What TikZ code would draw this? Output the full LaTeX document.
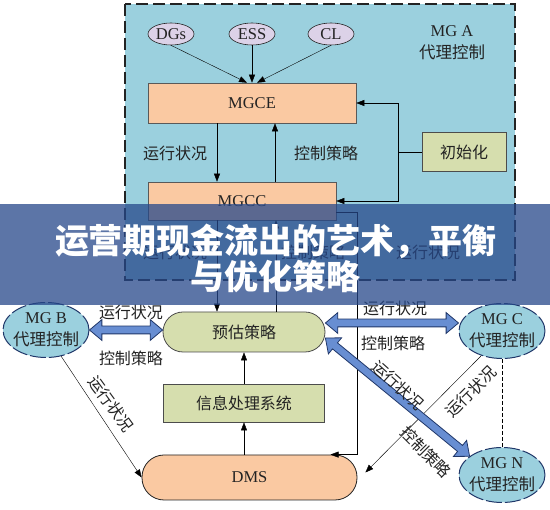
\documentclass[tikz,border=0pt]{standalone}
\usepackage{fontspec}
\setmainfont{Liberation Serif}
\newfontfamily\cjk{Noto Sans CJK SC}
\usetikzlibrary{
  arrows.meta,
  shapes.geometric,
  shapes.arrows,
  calc
}

\definecolor{mgblue}{RGB}{155,208,222}
\definecolor{peach}{RGB}{250,201,162}
\definecolor{olivebox}{RGB}{214,222,174}
\definecolor{lilac}{RGB}{220,210,232}
\definecolor{navy}{RGB}{32,55,105}
\definecolor{fatblue}{RGB}{104,142,210}
\definecolor{bannerblue}{RGB}{38,72,138}
\definecolor{ink}{RGB}{35,35,35}

\newcommand\fatarrow[2]{%
  \path let \p1=($(#2)-(#1)$), \n1={veclen(\x1,\y1)}, \n2={atan2(\y1,\x1)} in
    node[fat, minimum height=\n1, rotate=\n2] at ($(#1)!0.5!(#2)$) {};}

\begin{document}
\begin{tikzpicture}[x=1pt,y=-1pt,
  every node/.style={text=ink},
  latin/.style={font=\fontsize{16.5}{22}\selectfont},
  lbl/.style={font=\cjk\fontsize{16}{18}\selectfont},
  flow/.style={-{Triangle[length=8pt,width=6pt]}},
  src/.style={ellipse, draw=ink, fill=lilac, line width=0.6pt, minimum width=46pt, minimum height=22pt, inner sep=0pt, latin},
  peachbox/.style={rectangle, draw=black!65, fill=peach, line width=0.6pt, inner sep=0pt, latin},
  greenbox/.style={rectangle, draw=black!70, fill=olivebox, line width=0.8pt, inner sep=0pt, lbl},
  agent/.style={ellipse, draw=navy, fill=mgblue, line width=1pt, dash pattern=on 16pt off 3pt, inner xsep=-3pt, inner ysep=0pt, minimum width=86pt, minimum height=55pt, align=center, latin},
  fat/.style={double arrow, draw=navy, fill=fatblue, line width=0.8pt, inner sep=3.5pt, double arrow head extend=6.5pt, double arrow head indent=0pt, double arrow tip angle=80},
]
\useasboundingbox (0,0) rectangle (550,510);
\fill[white] (0,0) rectangle (550,510);

% MG A
\fill[mgblue] (125,4) rectangle (515,280);
\draw[ink, line width=1.2pt, dash pattern=on 12pt off 5pt] (125,4) rectangle (515,280);
\node[latin, align=center] (mga) at (452,43) {MG A\\{\cjk 代理控制}};

\node[src] (dgs) at (171,34) {DGs};
\node[src] (ess) at (252,34) {ESS};
\node[src] (cl) at (331,34) {CL};
\node[peachbox, minimum width=208pt, minimum height=40pt] (mgce) at (252,103) {MGCE};
\node[peachbox, minimum width=188pt, minimum height=38pt] (mgcc) at (242,201) {MGCC};
\node[greenbox, minimum width=84pt, minimum height=39pt] (init) at (464,152) {初始化};

\draw[flow] (dgs.south) -- ([xshift=-5pt]mgce.north);
\draw[flow] (ess.south) -- (mgce.north);
\draw[flow] (cl.south) -- ([xshift=5pt]mgce.north);
\draw[flow] ([xshift=-35pt]mgce.south) -- ([xshift=-25pt]mgcc.north);
\draw[flow] ([xshift=33pt]mgcc.north) -- ([xshift=23pt]mgce.south);
\coordinate (split) at (398,152);
\draw (init.west) -- (split);
\draw[flow] (split) |- (mgce.east);
\draw[flow] (split) |- (mgcc.east);

\node[lbl] (s1) at (175,153) {运行状况};
\node[lbl] (c1) at (326,153) {控制策略};
\node[lbl] (s2) at (175,252) {运行状况};
\node[lbl] (c2) at (313,252) {控制策略};
\node[lbl] (s3) at (428,252) {运行状况};

% DMS side
\node[greenbox, rounded corners=20pt, minimum width=162pt, minimum height=40pt] (yugu) at (244,332) {预估策略};
\node[greenbox, minimum width=161pt, minimum height=38pt] (info) at (244,403) {信息处理系统};
\node[peachbox, draw=ink, line width=0.8pt, rounded corners=22pt, minimum width=215pt, minimum height=45pt] (dms) at (249.5,477.5) {DMS};
\node[agent] (mgb) at (46,330) {MG B\\{\cjk 代理控制}};
\node[agent] (mgc) at (502,331) {MG C\\{\cjk 代理控制}};
\node[agent] (mgn) at (502,475) {MG N\\{\cjk 代理控制}};

\draw[flow] ([xshift=-25pt]mgcc.south) -- ([xshift=-27pt]yugu.north);
\draw[flow] ([xshift=32pt]yugu.north) -- ([xshift=34pt]mgcc.south);
\coordinate (bend) at (357,212);
\draw[flow] (mgcc.east |- bend) -- (bend) |- ([xshift=81pt]dms.north);
\draw[flow] (info.south |- dms.north) -- (info.south);
\draw[flow] (info.north) -- (yugu.south);
\draw[flow] (mgb.-60) -- (dms.west);
\draw[flow] (mgc.-130) -- ([xshift=8pt,yshift=5pt]dms.east);
\draw[dash pattern=on 4pt off 2pt] (mgc.south) -- (mgn.north);

\coordinate (fb) at (mgb.east -| yugu.west);
\coordinate (fc1) at ([yshift=9pt]yugu.east);
\coordinate (fc2) at (fc1 -| mgc.west);
\coordinate (fd) at ([yshift=-6pt]yugu.east);
\fatarrow{mgb.east}{fb}
\fatarrow{fc1}{fc2}
\fatarrow{fd}{mgn.150}

\node[lbl] (s4) at (131,312) {运行状况};
\node[lbl] (c4) at (131,358) {控制策略};
\node[lbl] (s5) at (395,308) {运行状况};
\node[lbl] (c5) at (393,343) {控制策略};
\node[lbl, rotate=-42] (s6) at (398,385) {运行状况};
\node[lbl, rotate=-45] (c6) at (426,452) {控制策略};
\node[lbl, rotate=45] (s7) at (471,392) {运行状况};
\node[lbl, rotate=-54] (s8) at (111,404) {运行状况};

% banner
\fill[bannerblue, fill opacity=0.75] (0,204) rectangle (550,305);
\node[font=\cjk\bfseries\fontsize{34}{36}\selectfont, text=white, align=center] (title) at (276,258) {运营期现金流出的艺术，平衡\\与优化策略};
\end{tikzpicture}
\end{document}
